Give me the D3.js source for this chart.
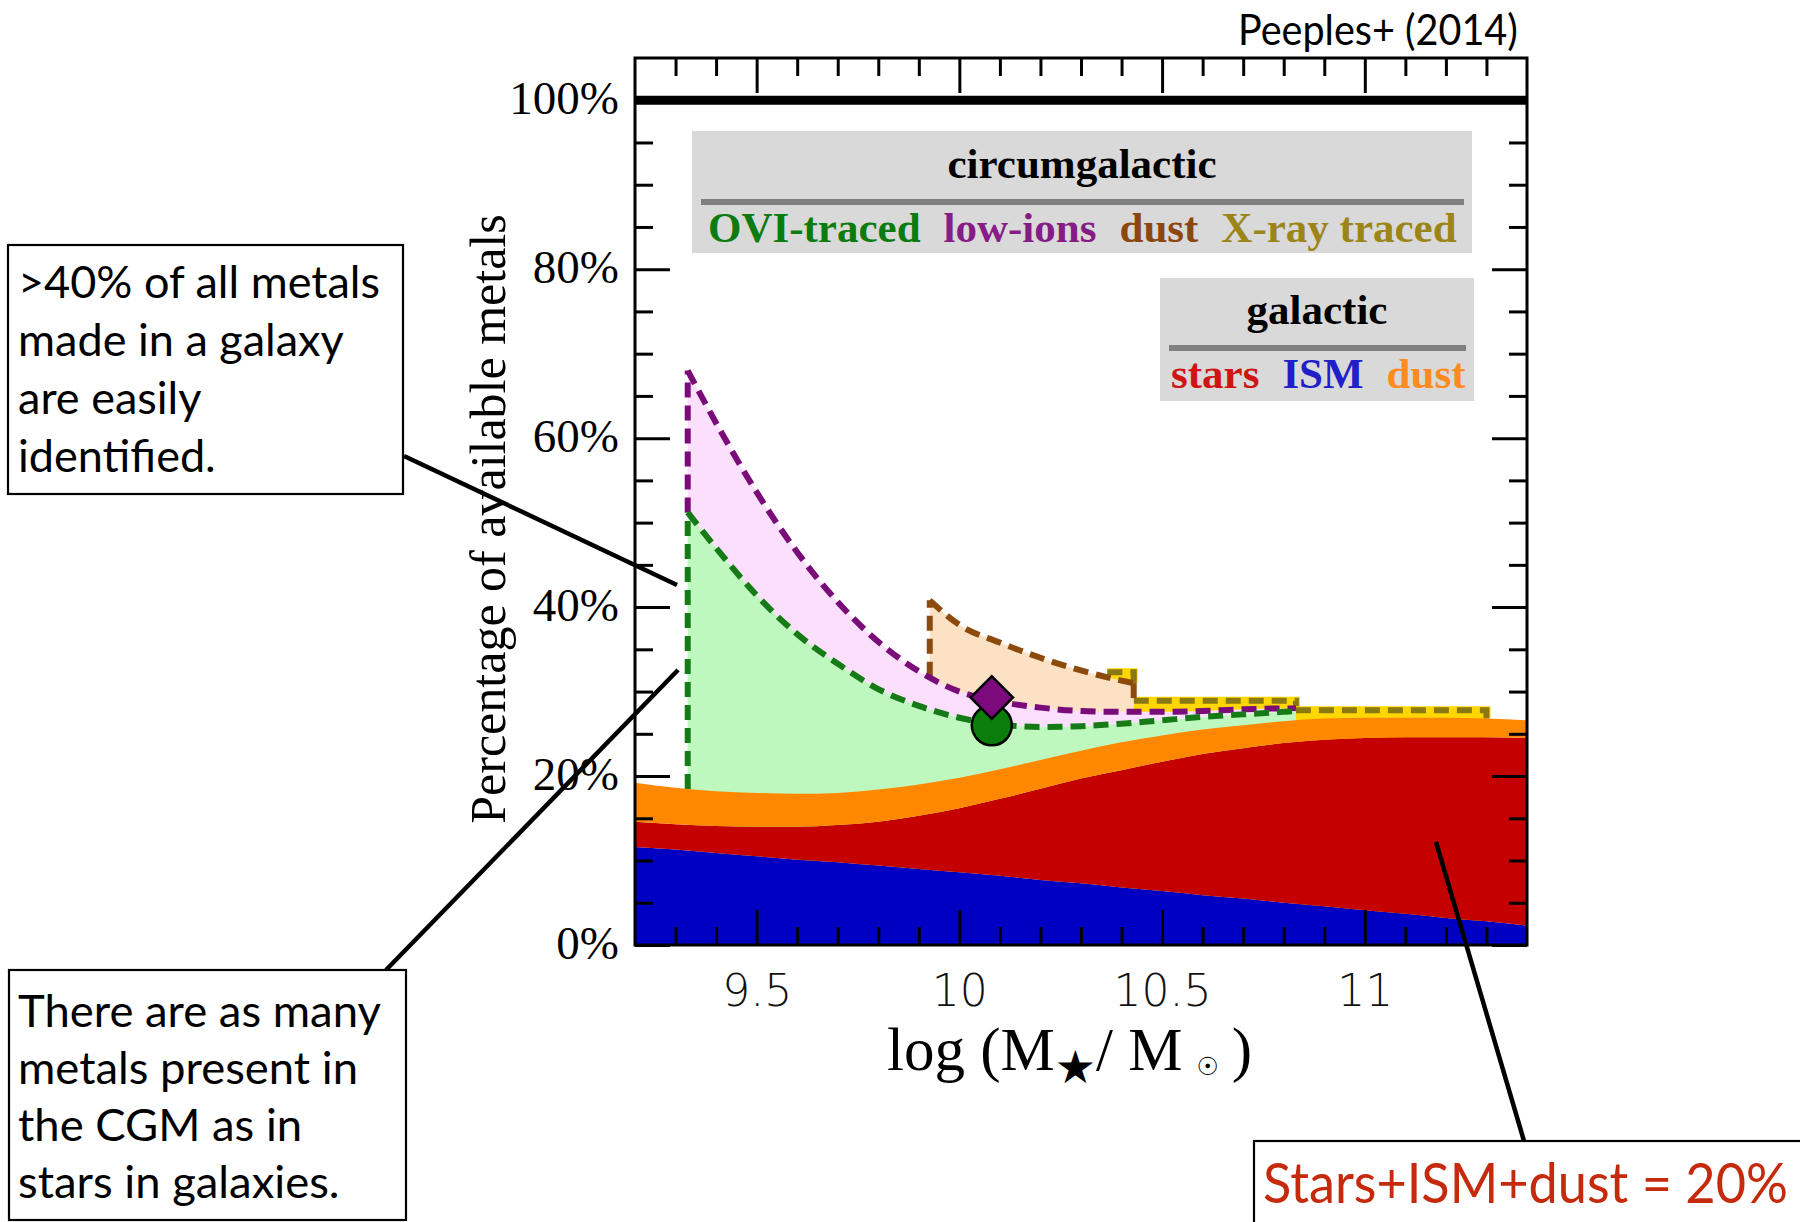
<!DOCTYPE html>
<html>
<head>
<meta charset="utf-8">
<script src="https://cdn.jsdelivr.net/npm/d3@7"></script>
<style>
  html, body { margin: 0; padding: 0; background: #fff; }
  svg { display: block; }
</style>
</head>
<body>
<svg id="chart" width="1800" height="1222"></svg>
<script>
// ---- galactic metal budget, % of available metals, on a 0.1 dex stellar-mass grid ----
const massGrid   = [9.2, 9.3, 9.4, 9.5, 9.6, 9.7, 9.8, 9.9, 10.0, 10.1, 10.2, 10.3, 10.4, 10.5, 10.6, 10.7, 10.8, 10.9, 11.0, 11.1, 11.2, 11.3, 11.4];
const ismPct     = [11.6, 11.3, 10.9, 10.5, 10.1, 9.8, 9.4, 9.0, 8.6, 8.2, 7.7, 7.3, 6.8, 6.4, 5.9, 5.5, 5.0, 4.6, 4.1, 3.7, 3.2, 2.8, 2.3];
const starsPct   = [3.0, 3.0, 3.2, 3.5, 3.9, 4.4, 5.2, 6.3, 7.6, 9.1, 10.8, 12.4, 13.9, 15.3, 16.7, 17.8, 18.9, 19.7, 20.4, 20.9, 21.4, 21.8, 22.2];
const galDustPct = [4.6, 4.3, 4.1, 4.0, 3.9, 3.8, 3.8, 3.7, 3.6, 3.5, 3.4, 3.3, 3.3, 3.1, 2.9, 2.7, 2.6, 2.5, 2.4, 2.3, 2.3, 2.2, 2.1];

// ---- circumgalactic budget: upper edge of each stacked layer (cumulative %) ----
const cgmMass   = [9.33, 9.4, 9.5, 9.6, 9.7, 9.8, 9.9, 10.0, 10.1, 10.2, 10.3, 10.4, 10.5, 10.6, 10.7, 10.8, 10.83];
const oviTop    = [51.2, 47.0, 41.4, 36.8, 33.3, 30.3, 28.3, 26.9, 26.1, 25.8, 25.9, 26.2, 26.6, 27.0, 27.3, 27.6, 27.7];
const lowIonTop = [68.0, 61.8, 53.6, 46.5, 40.6, 35.9, 32.4, 30.0, 28.8, 28.1, 27.7, 27.6, 27.6, 27.7, 27.9, 28.0, 28.0];

const cgmDustMass = [9.927, 10.0, 10.1, 10.2, 10.3, 10.4, 10.43];
const cgmDustTop  = [40.8, 37.9, 35.8, 34.0, 32.5, 31.3, 31.0];

// X-ray traced hot gas, three mass bins
const xrayLo  = [10.365, 10.43, 10.83];
const xrayHi  = [10.43, 10.83, 11.30];
const xrayTop = [32.3, 28.9, 27.8];

// observed points
const pointMass   = 10.08;
const lowIonPoint = 29.3;
const oviPoint    = 26.0;

// ---- axes ----
const xMajorTicks = [9.5, 10, 10.5, 11];
const xTickLabels = ["9.5", "10", "10.5", "11"];
const yMajorTicks = [0, 20, 40, 60, 80, 100];
const yTickLabels = ["0%", "20%", "40%", "60%", "80%", "100%"];

// ---- legend entries ----
const cgmLegendLabels = ["OVI-traced", "low-ions", "dust", "X-ray traced"];
const cgmLegendColors = ["#0c7c10", "#861c86", "#8e4610", "#9c8518"];
const galLegendLabels = ["stars", "ISM", "dust"];
const galLegendColors = ["#d01414", "#2020c8", "#ff8a20"];

// ---- annotations ----
const noteTop    = [">40% of all metals", "made in a galaxy", "are easily", "identified."];
const noteBottom = ["There are as many", "metals present in", "the CGM as in", "stars in galaxies."];
const noteRight  = "Stars+ISM+dust = 20%";
const citation   = "Peeples+ (2014)";

const svg = d3.select("#chart");
const x = d3.scaleLinear().domain([9.2, 11.4]).range([635, 1527]);
const y = d3.scaleLinear().domain([0, 105]).range([945, 58]);

const SERIF = "'Liberation Serif', 'Times New Roman', serif";
const SANS  = "'DejaVu Sans', 'Liberation Sans', sans-serif";
const HUMAN = "Lato, 'Open Sans', sans-serif";

// linear lookup along a sampled boundary
function lookup(xs, ys, v) {
  let i = d3.bisectLeft(xs, v);
  i = Math.max(1, Math.min(xs.length - 1, i));
  const t = (v - xs[i - 1]) / (xs[i] - xs[i - 1]);
  return ys[i - 1] + t * (ys[i] - ys[i - 1]);
}

svg.append("defs").append("clipPath").attr("id", "plotClip")
  .append("rect").attr("x", x(9.2)).attr("y", y(105))
  .attr("width", x(11.4) - x(9.2)).attr("height", y(0) - y(105));

const plot = svg.append("g").attr("clip-path", "url(#plotClip)");

const galRows = massGrid.map((m, i) => ({ m, ism: ismPct[i], stars: starsPct[i], dust: galDustPct[i] }));
const galStack = d3.stack().keys(["ism", "stars", "dust"])(galRows);
const galTotal = galRows.map(r => r.ism + r.stars + r.dust);

const dashed = (sel, color) => sel.attr("fill", "none").attr("stroke", color)
  .attr("stroke-width", 6).attr("stroke-dasharray", "15 8");

const lineGen = d3.line().x(d => x(d[0])).y(d => y(d[1]));
const curveGen = d3.line().x(d => x(d[0])).y(d => y(d[1])).curve(d3.curveMonotoneX);
const areaFromZero = d3.area().x(d => x(d[0])).y0(y(0)).y1(d => y(d[1])).curve(d3.curveMonotoneX);

// X-ray traced bins (yellow with olive dashed outline)
const xrayPairs = xrayLo.map((lo, i) => ({ lo, hi: xrayHi[i], top: xrayTop[i] }));
const xrayBottoms = [
  lookup(cgmDustMass, cgmDustTop, xrayHi[0]),
  lookup(cgmMass, lowIonTop, xrayHi[1]),
  lookup(massGrid, galTotal, xrayHi[2])
];
plot.selectAll("path.xray-fill").data(xrayPairs).join("path").attr("class", "xray-fill")
  .attr("d", d => lineGen([[d.lo, 0], [d.lo, d.top], [d.hi, d.top], [d.hi, 0]]))
  .attr("fill", "#ffd700");
xrayPairs.forEach((d, i) => {
  const outline = [[d.lo, d.top], [d.hi, d.top], [d.hi, xrayBottoms[i]]];
  plot.append("path").attr("d", lineGen(outline)).attr("fill", "none")
    .attr("stroke", "#ffd700").attr("stroke-width", 8);
  plot.append("path").attr("d", lineGen(outline)).call(dashed, "#8a7812");
});

// circumgalactic dust
const dustPts = cgmDustMass.map((m, i) => [m, cgmDustTop[i]]);
plot.append("path").datum(dustPts).attr("d", areaFromZero).attr("fill", "#fde1c4");
plot.append("path").datum(dustPts).attr("d", curveGen).call(dashed, "#8c4a0c");
plot.append("path").attr("d", lineGen([[cgmDustMass[0], lookup(cgmMass, lowIonTop, cgmDustMass[0])], dustPts[0]]))
  .call(dashed, "#8c4a0c");
plot.append("path").attr("d", lineGen([dustPts[dustPts.length - 1], [xrayLo[1], xrayTop[1]]]))
  .call(dashed, "#8c4a0c");

// low ions
const lowPts = cgmMass.map((m, i) => [m, lowIonTop[i]]);
plot.append("path").datum(lowPts).attr("d", areaFromZero).attr("fill", "#fcdffc");
plot.append("path").datum(lowPts).attr("d", curveGen).call(dashed, "#7a0c7a");
plot.append("path").attr("d", lineGen([[cgmMass[0], oviTop[0]], [cgmMass[0], lowIonTop[0]]]))
  .call(dashed, "#7a0c7a");

// OVI-traced
const oviPts = cgmMass.map((m, i) => [m, oviTop[i]]);
plot.append("path").datum(oviPts).attr("d", areaFromZero).attr("fill", "#bff8bf");
plot.append("path").datum(oviPts).attr("d", curveGen).call(dashed, "#167a16");
plot.append("path").attr("d", lineGen([[cgmMass[0], lookup(massGrid, galTotal, cgmMass[0])], [cgmMass[0], oviTop[0]]]))
  .call(dashed, "#167a16");

// galactic layers
const galColors = { ism: "#0000c2", stars: "#c40000", dust: "#ff8800" };
const galArea = d3.area().x(d => x(d.data.m)).y0(d => y(d[0])).y1(d => y(d[1])).curve(d3.curveMonotoneX);
plot.selectAll("path.gal").data(galStack).join("path").attr("class", "gal")
  .attr("d", galArea).attr("fill", d => galColors[d.key]);

// observed points
svg.append("circle").attr("cx", x(pointMass)).attr("cy", y(oviPoint)).attr("r", 20)
  .attr("fill", "#0b7d0b").attr("stroke", "#000").attr("stroke-width", 2.5);
svg.append("path")
  .attr("d", d3.symbol(d3.symbolSquare, 900)())
  .attr("transform", `translate(${x(pointMass)},${y(lowIonPoint)}) rotate(45)`)
  .attr("fill", "#7d0a7d").attr("stroke", "#000").attr("stroke-width", 2.5);

// 100% reference line
svg.append("line").attr("x1", x(9.2)).attr("x2", x(11.4)).attr("y1", y(100)).attr("y2", y(100))
  .attr("stroke", "#000").attr("stroke-width", 9);

// ticks on all four sides, pointing inward
const xMinor = d3.range(9.3, 11.35, 0.1).map(v => +v.toFixed(1)).filter(v => !xMajorTicks.includes(v));
const yMinor = d3.range(5, 100, 5).filter(v => !yMajorTicks.includes(v));
const styleAxis = g => {
  g.select(".domain").remove();
  g.selectAll(".tick line").attr("stroke", "#000").attr("stroke-width", 3);
};
svg.append("g").attr("transform", `translate(0,${y(0)})`)
  .call(d3.axisBottom(x).tickValues(xMinor).tickSize(-18).tickFormat("")).call(styleAxis);
const xb = svg.append("g").attr("transform", `translate(0,${y(0)})`)
  .call(d3.axisBottom(x).tickValues(xMajorTicks).tickSize(-35).tickFormat((d, i) => xTickLabels[i])).call(styleAxis);
xb.selectAll("text").attr("y", 61).attr("dy", 0)
  .attr("font-family", SANS).attr("font-weight", 300).attr("font-size", 44).attr("fill", "#111");
svg.append("g").attr("transform", `translate(0,${y(105)})`)
  .call(d3.axisTop(x).tickValues(xMinor).tickSize(-18).tickFormat("")).call(styleAxis);
svg.append("g").attr("transform", `translate(0,${y(105)})`)
  .call(d3.axisTop(x).tickValues(xMajorTicks).tickSize(-35).tickFormat("")).call(styleAxis);

svg.append("g").attr("transform", `translate(${x(9.2)},0)`)
  .call(d3.axisLeft(y).tickValues(yMinor).tickSize(-18).tickFormat("")).call(styleAxis);
const yl = svg.append("g").attr("transform", `translate(${x(9.2)},0)`)
  .call(d3.axisLeft(y).tickValues(yMajorTicks).tickSize(-35).tickPadding(16).tickFormat((d, i) => yTickLabels[i])).call(styleAxis);
yl.selectAll("text").attr("font-family", SERIF).attr("font-size", 47).attr("fill", "#000").attr("dy", "0.28em");
svg.append("g").attr("transform", `translate(${x(11.4)},0)`)
  .call(d3.axisRight(y).tickValues(yMinor).tickSize(-18).tickFormat("")).call(styleAxis);
svg.append("g").attr("transform", `translate(${x(11.4)},0)`)
  .call(d3.axisRight(y).tickValues(yMajorTicks).tickSize(-35).tickFormat("")).call(styleAxis);

// frame
svg.append("rect").attr("x", x(9.2)).attr("y", y(105))
  .attr("width", x(11.4) - x(9.2)).attr("height", y(0) - y(105))
  .attr("fill", "none").attr("stroke", "#000").attr("stroke-width", 3);

// axis titles
svg.append("text").attr("transform", "translate(505,519) rotate(-90)")
  .attr("text-anchor", "middle").attr("font-family", SERIF).attr("font-size", 50)
  .text("Percentage of available metals");

const xt = svg.append("text").attr("x", 887).attr("y", 1070)
  .attr("font-family", SERIF).attr("font-size", 61);
xt.append("tspan").text("log (M");
xt.append("tspan").attr("font-family", "'DejaVu Sans', sans-serif").attr("font-size", 46).attr("dy", 13).text("\u2605");
xt.append("tspan").attr("dy", -13).text("/ M");
xt.append("tspan").attr("font-family", "'DejaVu Sans', sans-serif").attr("font-size", 25).attr("dx", 14).attr("dy", 5).text("\u2609");
xt.append("tspan").attr("dx", 13).attr("dy", -5).text(")");

// legend panels
function legendPanel(x0, y0, w, h, title, titleBase, ruleY, labels, colors, labelX, labelBase) {
  const g = svg.append("g");
  g.append("rect").attr("x", x0).attr("y", y0).attr("width", w).attr("height", h).attr("fill", "#d9d9d9");
  g.append("text").attr("x", x0 + w / 2).attr("y", titleBase).attr("text-anchor", "middle")
    .attr("font-family", SERIF).attr("font-weight", "bold").attr("font-size", 43).text(title);
  g.append("line").attr("x1", x0 + 9).attr("x2", x0 + w - 8).attr("y1", ruleY).attr("y2", ruleY)
    .attr("stroke", "#808080").attr("stroke-width", 6);
  let cx = labelX;
  labels.forEach((lab, i) => {
    const t = g.append("text").attr("x", cx).attr("y", labelBase)
      .attr("font-family", SERIF).attr("font-weight", "bold").attr("font-size", 43)
      .attr("fill", colors[i]).text(lab);
    cx += t.node().getComputedTextLength() + 23;
  });
}
legendPanel(692, 131, 780, 122, "circumgalactic", 178, 202, cgmLegendLabels, cgmLegendColors, 708, 242);
legendPanel(1160, 278, 314, 123, "galactic", 324, 348, galLegendLabels, galLegendColors, 1171, 388);

// annotations
const ink = svg.append("g");
ink.append("line").attr("x1", 404).attr("y1", 456).attr("x2", 677).attr("y2", 585);
ink.append("line").attr("x1", 386).attr("y1", 970).attr("x2", 678).attr("y2", 670);
ink.append("line").attr("x1", 1436).attr("y1", 842).attr("x2", 1524).attr("y2", 1141);
ink.selectAll("line").attr("stroke", "#000").attr("stroke-width", 4.5);

function noteBox(bx, by, bw, bh, lines, tx, firstBase, step, size, color, targetWidth) {
  const g = svg.append("g");
  g.append("rect").attr("x", bx).attr("y", by).attr("width", bw).attr("height", bh)
    .attr("fill", "#fff").attr("stroke", "#000").attr("stroke-width", 2.2);
  const texts = lines.map((ln, i) => g.append("text")
    .attr("font-family", HUMAN).attr("font-size", size).attr("fill", color).text(ln));
  const sx = targetWidth / texts[0].node().getComputedTextLength();
  texts.forEach((t, i) => t.attr("transform", `translate(${tx},${firstBase + i * step}) scale(${sx},1)`));
}
noteBox(8, 245, 395, 249, noteTop, 18, 298, 58, 44, "#000", 362);
noteBox(9, 970, 397, 250, noteBottom, 18, 1027, 57, 44, "#000", 363);
noteBox(1254, 1141, 600, 120, [noteRight], 1263, 1203, 0, 57, "#c52a0d", 525);

const cite = svg.append("text").attr("font-family", HUMAN).attr("font-size", 43).attr("fill", "#000").text(citation);
const csx = 280 / cite.node().getComputedTextLength();
cite.attr("transform", `translate(1238,45) scale(${csx},1)`);
</script>
</body>
</html>
